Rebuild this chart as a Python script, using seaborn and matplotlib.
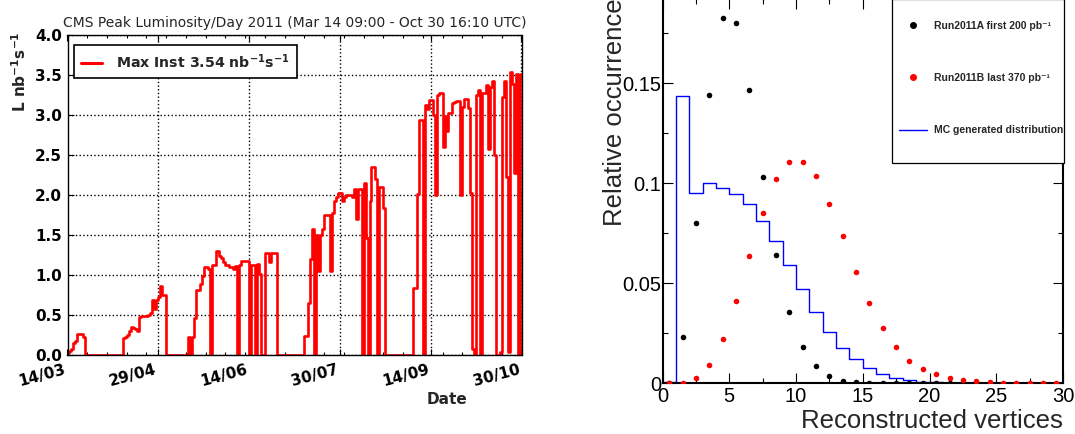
import numpy as np
import pandas as pd
import matplotlib
matplotlib.use("Agg")
import matplotlib.pyplot as plt
from matplotlib.lines import Line2D
from matplotlib.patches import Rectangle
import seaborn as sns

# ------------------------------------------------------------------ data
# Left panel: CMS peak instantaneous luminosity per day (nb^-1 s^-1), 2011
lumi_start = "2011-03-14"
peak_lumi = [
    0.02, 0.05, 0.08, 0.15, 0.17, 0.26, 0.26, 0.26, 0.22, 0.0,          # d0-9
    0, 0, 0, 0, 0, 0, 0, 0, 0, 0,                                     # d10-19
    0, 0, 0, 0, 0, 0, 0, 0, 0.21, 0.23,                               # d20-29
    0.25, 0.30, 0.35, 0.34, 0.32, 0.30, 0.47, 0.49, 0.49, 0.49,       # d30-39
    0.49, 0.50, 0.52, 0.69, 0.57, 0.69, 0.73, 0.86, 0.75, 0.75,       # d40-49
    0, 0, 0, 0, 0, 0, 0, 0, 0, 0,                                     # d50-59
    0, 0.22, 0.0, 0.22, 0.46, 0.81, 0.81, 0.89, 0.99, 1.10,           # d60-69
    1.10, 1.08, 0.0, 1.125, 1.125, 1.30, 1.30, 1.24, 1.21, 1.16,      # d70-79
    1.125, 1.125, 1.10, 1.10, 1.07, 1.11, 0.0, 1.125, 1.17, 1.17,     # d80-89
    1.18, 1.18, 0.0, 1.125, 1.125, 0.0, 1.14, 1.01, 0.0, 0.0,         # d90-99
    1.28, 1.28, 1.16, 1.28, 1.28, 1.28, 0, 0, 0, 0,                   # d100-109
    0, 0, 0, 0, 0, 0, 0, 0, 0, 0,                                     # d110-119
    0.24, 0.24, 0.65, 1.20, 1.575, 0.0, 1.50, 1.05, 1.50, 1.58,       # d120-129
    1.75, 1.75, 1.75, 1.05, 1.78, 1.92, 1.97, 2.02, 2.02, 1.92,       # d130-139
    1.97, 2.00, 2.00, 2.00, 1.98, 2.07, 1.70, 2.07, 2.07, 0.0,        # d140-149
    2.15, 1.46, 0.0, 1.93, 2.35, 2.35, 2.20, 0.0, 2.10, 2.10,         # d150-159
    1.84, 0, 0, 0, 0, 0, 0, 0, 0, 0,                                  # d160-169
    0, 0, 0, 0, 0, 0.84, 0.84, 2.01, 2.94, 2.94,                      # d170-179
    0.0, 3.13, 3.07, 3.19, 3.19, 3.00, 2.00, 3.25, 3.27, 3.27,        # d180-189
    2.60, 2.99, 2.80, 3.02, 3.02, 3.15, 3.16, 3.17, 3.17, 2.00,       # d190-199
    3.10, 3.20, 3.20, 3.09, 2.02, 0.08, 0.0, 3.25, 3.31, 0.0,         # d200-209
    3.27, 3.27, 3.37, 2.58, 3.35, 3.43, 2.50, 0.0, 0.0, 0.04,         # d210-219
    3.23, 3.43, 2.23, 0.04, 3.54, 3.39, 2.27, 3.51, 0.0, 3.51,        # d220-229
    3.51,                                                             # d230
]
lumi_ticks = ["2011-03-14", "2011-04-29", "2011-06-14", "2011-07-30", "2011-09-14", "2011-10-30"]
lumi_tick_labels = ["14/03", "29/04", "14/06", "30/07", "14/09", "30/10"]
lumi_yticks = [0.0, 0.5, 1.0, 1.5, 2.0, 2.5, 3.0, 3.5, 4.0]
lumi_title = "CMS Peak Luminosity/Day 2011 (Mar 14 09:00 - Oct 30 16:10 UTC)"
lumi_legend = r"Max Inst 3.54 $\mathbf{nb^{-1}s^{-1}}$"
lumi_ylabel = r"L $\mathbf{nb^{-1}s^{-1}}$"

# Right panel: number of reconstructed vertices
vertex_centers = [0.5, 1.5, 2.5, 3.5, 4.5, 5.5, 6.5, 7.5, 8.5, 9.5,
                  10.5, 11.5, 12.5, 13.5, 14.5, 15.5, 16.5, 17.5, 18.5, 19.5,
                  20.5, 21.5, 22.5, 23.5, 24.5, 25.5, 26.5, 27.5, 28.5, 29.5]
run2011a = [0.0003, 0.0232, 0.0800, 0.1443, 0.1828, 0.1800, 0.1468, 0.1032, 0.0640, 0.0355,
            0.0182, 0.0085, 0.0037, 0.0013, 0.0005, 0.0002, 0.0001, 0.0, 0.0, 0.0,
            0.0, 0.0, 0.0]
run2011b = [0.0003, 0.0, 0.0025, 0.0092, 0.0223, 0.0410, 0.0638, 0.0853, 0.1020, 0.1107,
            0.1107, 0.1038, 0.0897, 0.0735, 0.0558, 0.0403, 0.0277, 0.0180, 0.0113, 0.0073,
            0.0047, 0.0028, 0.0017, 0.0010, 0.0007, 0.0003, 0.0001, 0.0001, 0.0001, 0.0001]
mc_dist = [0.0005, 0.1437, 0.0953, 0.1003, 0.0978, 0.0945, 0.0898, 0.0812, 0.0710, 0.0590,
           0.0472, 0.0358, 0.0258, 0.0178, 0.0120, 0.0077, 0.0048, 0.0028, 0.0017, 0.0008,
           0.0005, 0.0003, 0.0002, 0.0001, 0.0001, 0.0, 0.0, 0.0, 0.0, 0.0]
vert_xticks = [0, 5, 10, 15, 20, 25, 30]
vert_yticks = [0.0, 0.05, 0.10, 0.15]
vert_ytick_labels = ["0", "0.05", "0.1", "0.15"]
legend_labels = ["Run2011A first 200 pb\u207b\u00b9", "Run2011B last 370 pb\u207b\u00b9",
                 "MC generated distribution"]

# ------------------------------------------------------------------ style
sns.set_theme(style="ticks")
plt.rcParams["font.family"] = ["DejaVu Sans"]
plt.rcParams["mathtext.fontset"] = "dejavusans"
plt.rcParams["axes.edgecolor"] = "black"
plt.rcParams["xtick.color"] = "black"
plt.rcParams["ytick.color"] = "black"
ROOTF = ["Liberation Sans", "DejaVu Sans"]

W, H = 1075, 434
fig = plt.figure(figsize=(W / 100, H / 100), dpi=100)


def px_axes(l, t, r, b):
    return fig.add_axes([l / W, 1 - b / H, (r - l) / W, (b - t) / H])


# ================================================================ left panel
ax1 = px_axes(67.5, 35, 521.5, 355)
dates = pd.date_range(lumi_start, periods=len(peak_lumi), freq="D")
df = pd.DataFrame({"date": dates, "lumi": peak_lumi})
sns.lineplot(data=df, x="date", y="lumi", ax=ax1, color="red", lw=1.9,
             drawstyle="steps-post", estimator=None, label=lumi_legend)
ax1.set_xlim(pd.Timestamp(lumi_ticks[0]), pd.Timestamp(lumi_ticks[-1]))
ax1.set_ylim(0, 4.0)
ax1.set_xticks(pd.to_datetime(lumi_ticks))
ax1.set_xticklabels(lumi_tick_labels, rotation=15, ha="right",
                    fontweight="bold", fontsize=11)
ax1.set_xticks(pd.Timestamp(lumi_start) + pd.to_timedelta(np.arange(0, 231, 10), "D"),
               minor=True)
ax1.set_yticks(lumi_yticks)
ax1.set_yticklabels([f"{v:.1f}" for v in lumi_yticks], fontweight="bold", fontsize=11)
ax1.tick_params(which="both", direction="in", top=True, right=True, width=0.8)
ax1.tick_params(which="major", length=4)
ax1.tick_params(which="minor", length=2.5)
ax1.tick_params(axis="x", which="major", pad=5)
ax1.tick_params(axis="y", which="major", pad=4)
ax1.grid(True, which="major", ls=":", color="black", lw=1.0)
for s in ax1.spines.values():
    s.set_linewidth(1.0)
    s.set_color("black")
ax1.set_title(lumi_title, fontsize=10, pad=6)
ax1.set_xlabel("Date", fontweight="bold", fontsize=11)
ax1.xaxis.set_label_coords(0.836, -0.115)
ax1.set_ylabel(lumi_ylabel, fontweight="bold", fontsize=11)
ax1.yaxis.set_label_coords(-0.085, 0.885)
leg1 = ax1.legend(loc="upper left", bbox_to_anchor=(0.0143, 0.969), borderaxespad=0,
                  prop=dict(weight="bold", size=10.2), frameon=True, fancybox=False,
                  edgecolor="black", framealpha=1, borderpad=0.5, handlelength=1.5,
                  handletextpad=0.96)
leg1.get_frame().set_linewidth(1.2)
for ln in leg1.get_lines():
    ln.set_linewidth(2.2)

# =============================================================== right panel
ax2 = px_axes(662.5, -1.5, 1063, 383.3)
mc_df = pd.DataFrame({"vertices": vertex_centers, "weight": mc_dist})
sns.histplot(data=mc_df, x="vertices", weights="weight", bins=list(range(0, 31)),
             element="step", fill=False, color="blue", linewidth=1.0, ax=ax2)
sns.scatterplot(x=vertex_centers[:len(run2011a)], y=run2011a, color="black", s=16,
                linewidth=0, ax=ax2, zorder=3)
sns.scatterplot(x=vertex_centers[:len(run2011b)], y=run2011b, color="red", s=16,
                linewidth=0, ax=ax2, zorder=4)
ax2.set_xlim(0, 30)
ax2.set_ylim(0, (383.3 + 1.5) * 0.0005)
ax2.set_xticks(vert_xticks, [str(v) for v in vert_xticks], fontsize=14.5, family=ROOTF)
ax2.set_yticks(vert_yticks, vert_ytick_labels, fontsize=14.5, family=ROOTF)
ax2.set_xticks(np.arange(0, 30.1, 2.5), minor=True)
ax2.set_yticks(np.arange(0, 0.19, 0.025), minor=True)
ax2.tick_params(which="both", direction="in", top=True, right=True, width=0.8)
ax2.tick_params(which="major", length=7.5)
ax2.tick_params(which="minor", length=3.6)
ax2.tick_params(axis="y", which="major", pad=1)
ax2.tick_params(axis="x", which="major", pad=3)
for s in ax2.spines.values():
    s.set_linewidth(1.5)
    s.set_color("black")
ax2.set_xlabel("Reconstructed vertices", fontsize=18.5, family=ROOTF, loc="right")
ax2.xaxis.set_label_coords(1.0, -0.066)
ax2.set_ylabel("Relative occurrence", fontsize=18.5, family=ROOTF, loc="top")
ax2.yaxis.set_label_coords(-0.0885, 1.0)

handles = [Line2D([], [], marker="o", color="black", ls="none", markersize=4),
           Line2D([], [], marker="o", color="red", ls="none", markersize=4),
           Line2D([], [], color="blue", lw=1.0)]
fig.add_artist(Rectangle((892 / W, 1 - 163 / H), (1064 - 892) / W, 164 / H,
                         transform=fig.transFigure, facecolor="white",
                         edgecolor="black", lw=0.9, zorder=5))
leg2 = fig.legend(handles, legend_labels, loc="upper left",
                  bbox_to_anchor=(899 / W, 1 - 21 / H), bbox_transform=fig.transFigure,
                  borderaxespad=0, borderpad=0, frameon=False,
                  prop=dict(family=ROOTF, weight="bold", size=7.5),
                  handlelength=2.69, handletextpad=0.67, labelspacing=4.04)
leg2.set_zorder(6)

fig.savefig("out.png", dpi=100)
